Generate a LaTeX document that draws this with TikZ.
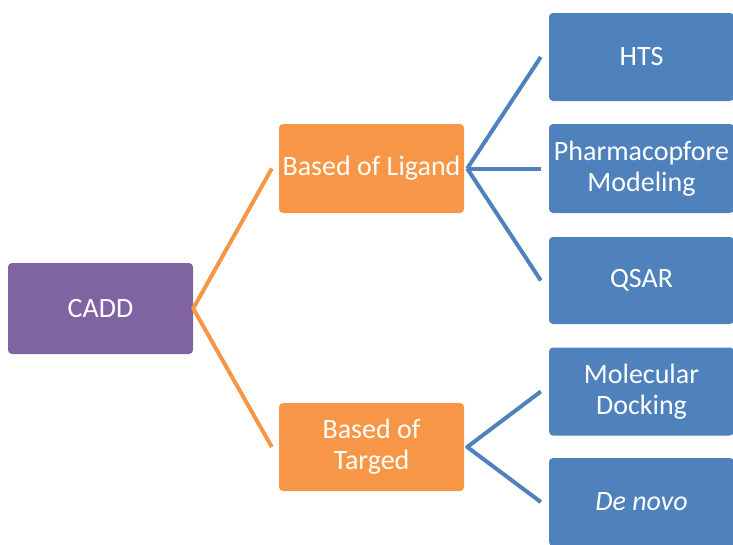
\documentclass[tikz,border=0pt]{standalone}
\usepackage{fontspec}
\setmainfont{Carlito}
\usepackage{xcolor}
\definecolor{caddpurple}{HTML}{8064A2}
\definecolor{ligorange}{HTML}{F79646}
\definecolor{leafblue}{HTML}{4F81BD}

\begin{document}
\begin{tikzpicture}[x=1pt,y=-1pt,
    box/.style={rounded corners=4pt,inner sep=0pt,minimum width=185pt,
      minimum height=89pt,align=center,text=white,
      font=\fontsize{28}{31}\selectfont},
    root/.style={box,fill=caddpurple,minimum height=91pt},
    mid/.style={box,fill=ligorange},
    leaf/.style={box,fill=leafblue,minimum height=88pt},
    orangeline/.style={ligorange,line width=4pt,line join=round},
    blueline/.style={leafblue,line width=4pt,line join=round}]
    \useasboundingbox (0,0) rectangle (733,544);
    %
    \node[root] (cadd) at (100.5,308.5) {CADD};
    \node[mid] (lig) at (371.5,168.5) {Based of Ligand};
    \node[mid,minimum height=88pt] (targ) at (371.5,447) {Based of\\Targed};
    %
    \node[leaf] (hts) at (641.5,57) {HTS};
    \node[leaf,minimum height=89pt] (pharm) at (641.5,168.5) {Pharmacopfore\\Modeling};
    \node[leaf,minimum height=87pt] (qsar) at (641.5,280.5) {QSAR};
    \node[leaf] (dock) at (641.5,391.5) {Molecular\\Docking};
    \node[leaf] (novo) at (641.5,502) {\textit{De novo}};
    %
    \draw[orangeline] ([xshift=-7pt]lig.west) -- (cadd.east) -- ([xshift=-7pt]targ.west);
    %
    \coordinate (ligfork) at ([xshift=3pt]lig.east);
    \draw[blueline] (ligfork) -- ([xshift=-8pt]hts.west);
    \draw[blueline] (ligfork) -- ([xshift=-8pt]pharm.west);
    \draw[blueline] (ligfork) -- ([xshift=-8pt]qsar.west);
    \coordinate (targfork) at ([xshift=3pt]targ.east);
    \draw[blueline] ([xshift=-8pt]dock.west) -- (targfork) -- ([xshift=-8pt]novo.west);
\end{tikzpicture}
\end{document}
